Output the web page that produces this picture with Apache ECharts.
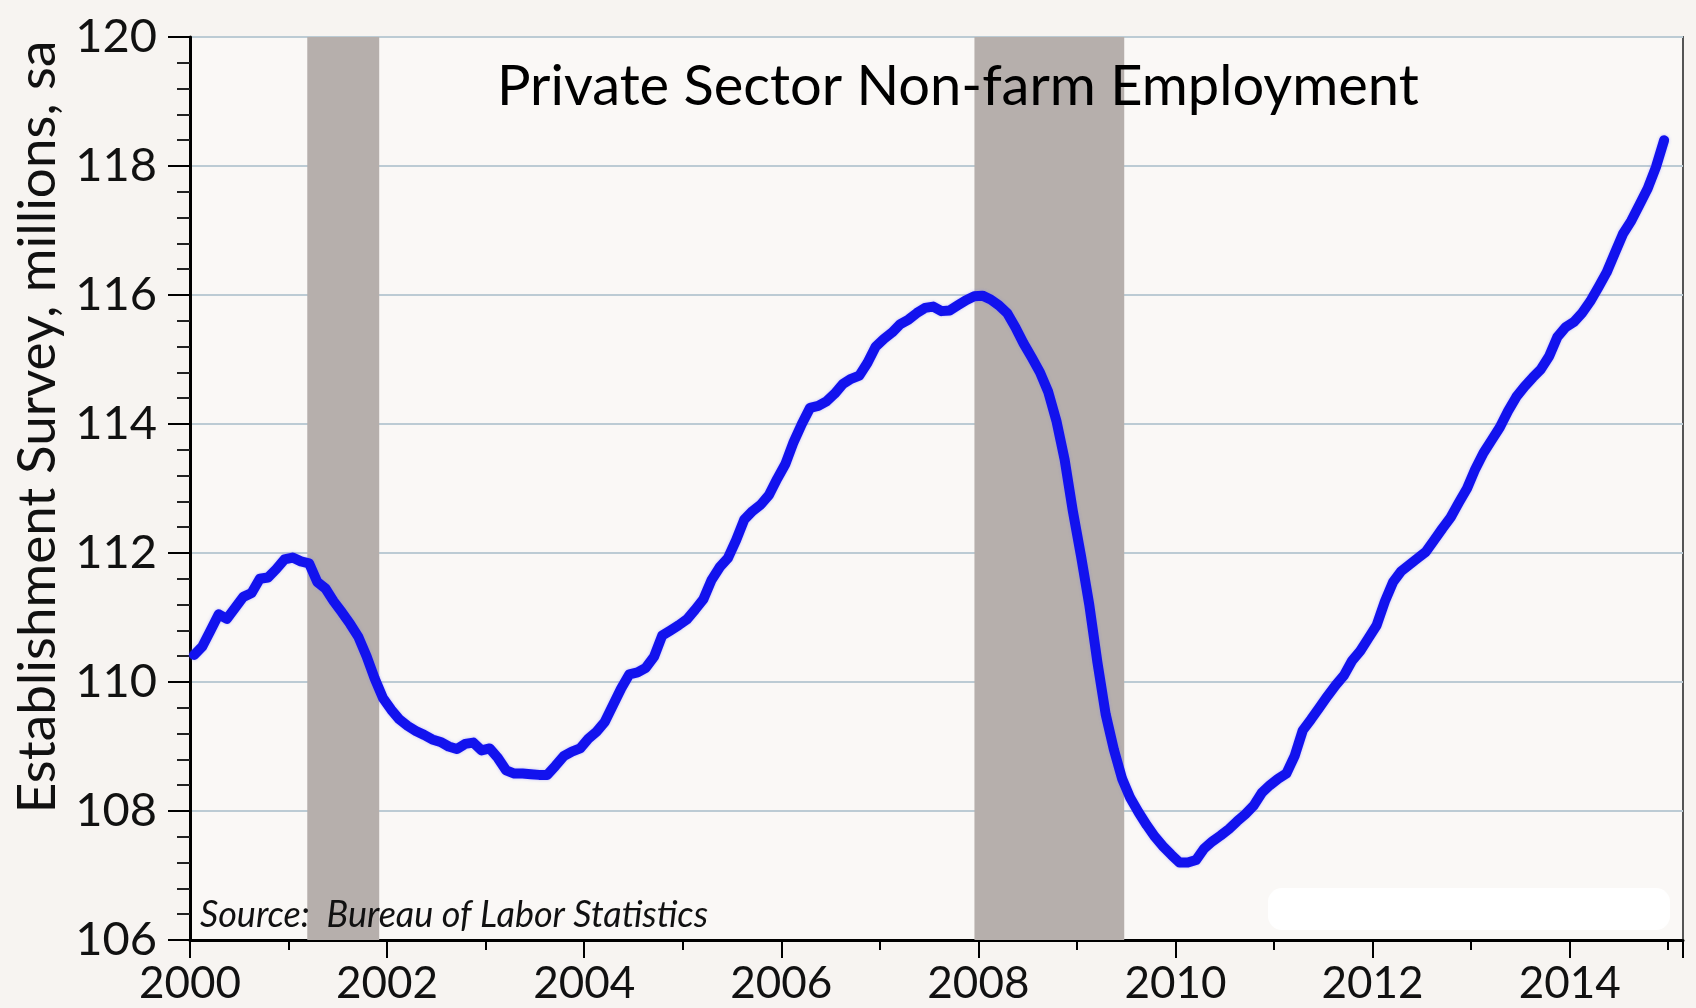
<!DOCTYPE html>
<html>
<head>
<meta charset="utf-8">
<script src="https://cdn.jsdelivr.net/npm/echarts@6/dist/echarts.min.js"></script>
<style>
html,body{margin:0;padding:0;background:#f7f4f1;}
#chart{width:1696px;height:1008px;}
</style>
</head>
<body>
<div id="chart"></div>
<script>
// Monthly private nonfarm employment (millions, sa), Jan 2000 .. Dec 2014
const startYear = 2000;
const y2000 = [110.42,110.55,110.80,111.05,110.98,111.15,111.32,111.38,111.60,111.62,111.75,111.90];
const y2001 = [111.93,111.87,111.84,111.55,111.45,111.25,111.08,110.90,110.70,110.40,110.05,109.75];
const y2002 = [109.57,109.42,109.32,109.24,109.18,109.11,109.07,109.00,108.96,109.04,109.06,108.94];
const y2003 = [108.97,108.82,108.63,108.58,108.58,108.57,108.56,108.56,108.70,108.85,108.92,108.97];
const y2004 = [109.12,109.23,109.38,109.64,109.90,110.12,110.15,110.22,110.39,110.72,110.80,110.88];
const y2005 = [110.97,111.12,111.28,111.58,111.78,111.92,112.20,112.52,112.65,112.75,112.90,113.15];
const y2006 = [113.38,113.72,114.00,114.25,114.28,114.35,114.47,114.62,114.70,114.75,114.95,115.20];
const y2007 = [115.32,115.42,115.55,115.62,115.72,115.80,115.82,115.75,115.76,115.84,115.92,115.98];
const y2008 = [115.99,115.93,115.84,115.72,115.50,115.25,115.03,114.80,114.50,114.05,113.45,112.65];
const y2009 = [111.95,111.20,110.30,109.50,108.95,108.50,108.20,107.98,107.78,107.60,107.45,107.32];
const y2010 = [107.20,107.20,107.24,107.42,107.53,107.62,107.72,107.84,107.95,108.08,108.28,108.40];
const y2011 = [108.50,108.58,108.85,109.25,109.42,109.60,109.78,109.95,110.10,110.33,110.48,110.68];
const y2012 = [110.88,111.25,111.55,111.72,111.82,111.92,112.02,112.20,112.38,112.55,112.78,113.00];
const y2013 = [113.30,113.55,113.75,113.95,114.20,114.42,114.58,114.72,114.85,115.05,115.35,115.50];
const y2014 = [115.58,115.72,115.90,116.12,116.35,116.65,116.95,117.15,117.40,117.65,117.98,118.40];
const employment = [].concat(y2000,y2001,y2002,y2003,y2004,y2005,y2006,y2007,y2008,y2009,y2010,y2011,y2012,y2013,y2014);

// Recessions (fractional years)
const recessions = [[2001.19, 2001.92], [2007.96, 2009.48]];

const xTicks = [2000, 2002, 2004, 2006, 2008, 2010, 2012, 2014];
const yTicks = [106, 108, 110, 112, 114, 116, 118, 120];

const titleText = 'Private Sector Non-farm Employment';
const yAxisTitle = 'Establishment Survey, millions, sa';
const sourceText = 'Source:  Bureau of Labor Statistics';

const seriesData = employment.map((v, i) => [startYear + (i + 0.5) / 12, v]);

const FONT = 'Lato, "Noto Sans", sans-serif';
const chart = echarts.init(document.getElementById('chart'), null, {renderer: 'canvas'});
chart.setOption({
  backgroundColor: '#f7f4f1',
  animation: false,
  grid: {
    left: 190, right: 13, top: 37, bottom: 68,
    show: true, backgroundColor: '#faf8f6', borderColor: '#555', borderWidth: 2
  },
  xAxis: {
    type: 'value', min: xTicks[0], max: 2015.15, interval: 2,
    axisLine: {show: true, lineStyle: {color: '#000', width: 3}},
    axisTick: {show: true, inside: false, length: 18, lineStyle: {color: '#000', width: 2}},
    minorTick: {show: true, splitNumber: 2, length: 10, lineStyle: {color: '#000', width: 2}},
    splitLine: {show: false},
    axisLabel: {
      fontFamily: FONT, fontSize: 44, color: '#111', margin: 22, showMaxLabel: false,
      formatter: v => String(v)
    }
  },
  yAxis: {
    type: 'value', min: yTicks[0], max: yTicks[yTicks.length - 1], interval: 2,
    axisLine: {show: true, lineStyle: {color: '#000', width: 3}},
    axisTick: {show: true, inside: false, length: 22, lineStyle: {color: '#000', width: 2}},
    minorTick: {show: true, splitNumber: 5, length: 13, lineStyle: {color: '#222', width: 2}},
    splitLine: {show: true, lineStyle: {color: '#bccbd4', width: 2}},
    axisLabel: {fontFamily: FONT, fontSize: 47, color: '#111', margin: 33}
  },
  series: [{
    type: 'line',
    data: seriesData,
    showSymbol: false,
    smooth: false,
    lineStyle: {color: '#1212ee', width: 10, cap: 'round', join: 'round',
                shadowColor: 'rgba(120,120,255,0.5)', shadowBlur: 3},
    z: 5,
    markArea: {
      silent: true,
      itemStyle: {color: '#b6afac', opacity: 1},
      data: recessions.map(r => [{xAxis: r[0]}, {xAxis: r[1]}])
    }
  }],
  graphic: [
    {type: 'text', left: 960 - 463, top: 59, z: 10,
     style: {text: titleText, fontFamily: FONT, fontSize: 56, fill: '#000'}},
    {type: 'text', x: 38, y: 427, rotation: Math.PI / 2, z: 10,
     style: {text: yAxisTitle, fontFamily: FONT, fontSize: 53, fill: '#111', align: 'center', verticalAlign: 'middle'}},
    {type: 'text', left: 200, top: 897, z: 10,
     style: {text: sourceText, fontFamily: FONT, fontStyle: 'italic', fontSize: 36, fill: '#111'}},
    {type: 'rect', shape: {x: 1268, y: 888, width: 402, height: 42, r: 14}, z: 9,
     style: {fill: '#ffffff'}}
  ]
});
</script>
</body>
</html>
